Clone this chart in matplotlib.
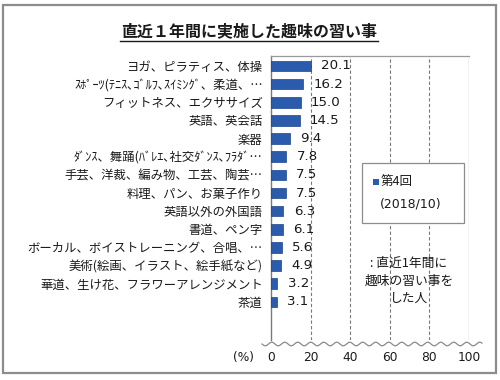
import matplotlib
matplotlib.use("Agg")
import matplotlib.pyplot as plt
import numpy as np
from matplotlib.patches import Rectangle
from matplotlib.lines import Line2D

plt.rcParams['font.family'] = ['Noto Sans CJK JP', 'DejaVu Sans']

title = "直近１年間に実施した趣味の習い事"
categories = [
    "ヨガ、ピラティス、体操",
    "ｽﾎﾟｰﾂ(ﾃﾆｽ､ｺﾞﾙﾌ､ｽｲﾐﾝｸﾞ、柔道、…",
    "フィットネス、エクササイズ",
    "英語、英会話",
    "楽器",
    "ﾀﾞﾝｽ、舞踊(ﾊﾞﾚｴ､社交ﾀﾞﾝｽ､ﾌﾗﾀﾞ…",
    "手芸、洋裁、編み物、工芸、陶芸…",
    "料理、パン、お菓子作り",
    "英語以外の外国語",
    "書道、ペン字",
    "ボーカル、ボイストレーニング、合唱、…",
    "美術(絵画、イラスト、絵手紙など)",
    "華道、生け花、フラワーアレンジメント",
    "茶道",
]
values = [20.1, 16.2, 15.0, 14.5, 9.4, 7.8, 7.5, 7.5, 6.3, 6.1, 5.6, 4.9, 3.2, 3.1]
xticks = [0, 20, 40, 60, 80, 100]
series_label = "第4回"
series_date = "(2018/10)"
note = ": 直近1年間に\n趣味の習い事を\nした人"

W, H = 500, 380
fig = plt.figure(figsize=(5, 3.8), dpi=100)

def fx(px):
    return px / W

def fy(py):
    return 1 - py / H

# outer border
fig.patches.append(Rectangle((fx(3), fy(373)), fx(496) - fx(3), fy(5) - fy(373),
                             transform=fig.transFigure, fill=False,
                             edgecolor='#8c8c8c', linewidth=1.6))

# title with underline
fig.text(fx(249), fy(31), title, ha='center', va='center',
         fontsize=11.5, fontweight='bold', color='#1a1a1a')
fig.lines.append(Line2D([fx(120), fx(378)], [fy(41), fy(41)], transform=fig.transFigure,
                        color='#1a1a1a', linewidth=1.0))

left, right, top, bottom = 271, 469, 56, 340
ax = fig.add_axes([fx(left), fy(bottom), fx(right) - fx(left), fy(top) - fy(bottom)])

n = len(categories)
y = np.arange(n)
bar_color = '#2a5bad'
ax.barh(y, values, height=0.58, color=bar_color, edgecolor='#1d4488', linewidth=0.5, zorder=3)
for yi, v in zip(y, values):
    ax.text(v + 5.2, yi, f"{v:.1f}", va='center', ha='left', fontsize=9.6,
            family='DejaVu Sans', color='#1a1a1a', zorder=4)

ax.set_xlim(0, 100)
ax.set_ylim(15.1, -0.55)
ax.set_yticks(y)
ax.set_yticklabels(categories, fontsize=8.9, color='#1a1a1a')
ax.tick_params(axis='y', length=0, pad=6)
ax.set_xticks(xticks)
ax.set_xticklabels([str(v) for v in xticks], fontsize=8.8, family='DejaVu Sans', color='#1a1a1a')
ax.tick_params(axis='x', length=0, pad=8)

for v in xticks[1:-1]:
    ax.axvline(v, color='#7a7a7a', linestyle=(0, (3, 2)), linewidth=0.8, zorder=1)
ax.axvline(100, color='#9a9a9a', linewidth=0.9, zorder=1)

ax.spines['bottom'].set_visible(False)
ax.spines['right'].set_visible(False)
ax.spines['top'].set_color('#9a9a9a')
ax.spines['top'].set_linewidth(0.9)
ax.spines['left'].set_color('#7a7a7a')
ax.spines['left'].set_linewidth(1.0)

# wavy break line
xs = np.linspace(262, 482, 400)
ys = 344 + 1.8 * np.sin((xs - 262) / 13.0 * 2 * np.pi)
fig.lines.append(Line2D(fx(xs), fy(ys), transform=fig.transFigure, color='#8a8a8a', linewidth=0.9))

fig.text(fx(243), fy(358), "(%)", ha='center', va='center', fontsize=8.8,
         family='DejaVu Sans', color='#1a1a1a')

# legend box
fig.patches.append(Rectangle((fx(362), fy(223)), fx(464) - fx(362), fy(163) - fy(223),
                             transform=fig.transFigure, facecolor='white',
                             edgecolor='#8c8c8c', linewidth=0.9, zorder=5))
fig.patches.append(Rectangle((fx(373), fy(185)), fx(6), fy(0) - fy(6),
                             transform=fig.transFigure, facecolor=bar_color,
                             edgecolor='none', zorder=6))
fig.text(fx(381), fy(181), series_label, ha='left', va='center', fontsize=9,
         color='#1a1a1a', zorder=6)
fig.text(fx(380), fy(204), series_date, ha='left', va='center', fontsize=9,
         family='DejaVu Sans', color='#1a1a1a', zorder=6)

fig.text(fx(409), fy(281), note, ha='center', va='center', fontsize=9.2,
         linespacing=1.45, color='#1a1a1a')

fig.savefig("out.png", dpi=100)
